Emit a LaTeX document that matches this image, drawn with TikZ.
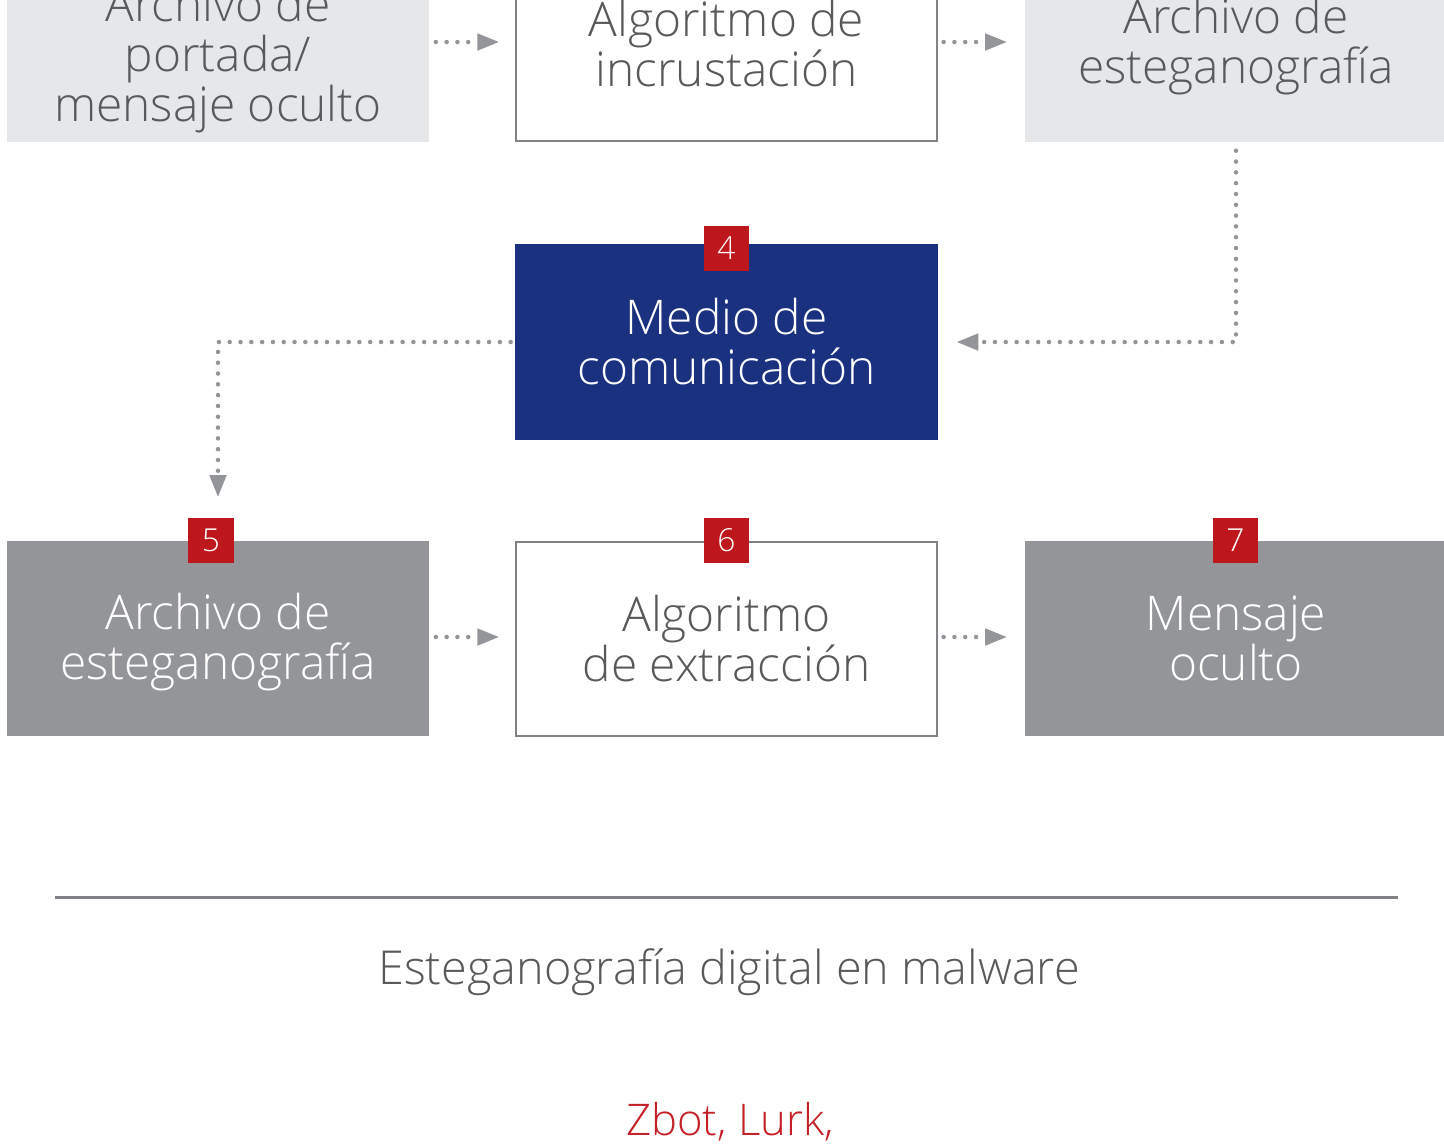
\documentclass[tikz,border=0pt]{standalone}
\usepackage{fontspec}
\setmainfont{Open Sans}[UprightFont={* Light}]
\usetikzlibrary{arrows.meta}

\definecolor{boxlight}{HTML}{E6E7E8}
\definecolor{boxdark}{HTML}{939598}
\definecolor{boxblue}{HTML}{1A3180}
\definecolor{badgered}{HTML}{BE161D}
\definecolor{txtgray}{HTML}{58595B}
\definecolor{linegray}{HTML}{808285}
\definecolor{arrowgray}{HTML}{939598}
\definecolor{malred}{HTML}{C42026}

\tikzset{
    box/.style={minimum width=4.22cm, minimum height=1.96cm, inner sep=0pt, align=center,
        font=\fontsize{13.6pt}{14.2pt}\selectfont},
    lightbox/.style={box, fill=boxlight, text=txtgray},
    darkbox/.style={box, fill=boxdark, text=white},
    openbox/.style={box, draw=linegray, line width=0.2mm, fill=white, text=txtgray,
        minimum width=4.2cm, minimum height=1.94cm},
    bluebox/.style={box, fill=boxblue, text=white},
    badge/.style={fill=badgered, text=white, minimum size=0.45cm, inner sep=0pt,
        font=\fontsize{9pt}{9pt}\selectfont},
    flow/.style={draw=arrowgray, line width=0.45mm, line cap=round,
        dash pattern=on 0pt off 1.08mm, -{Triangle[length=2.2mm,width=1.6mm]}}
}

\begin{document}
\begin{tikzpicture}[x=0.01cm, y=-0.01cm]

    \useasboundingbox (0,0) rectangle (1444,1147);
    \clip (0,0) rectangle (1444,1147);

    % Row 1: embedding
    \node[lightbox] (portada) at (218,44) {};
    \node[text=txtgray, align=center, font=\fontsize{13.6pt}{14.2pt}\selectfont]
        (portadatxt) at (218,59) {Archivo de\\portada/\\mensaje oculto};
    \node[openbox] (incrust) at (726.5,44) {Algoritmo de\\incrustación};
    \node[lightbox] (esteg) at (1236,44) {};
    \node[text=txtgray, align=center, font=\fontsize{13.6pt}{14.2pt}\selectfont]
        (estegtxt) at (1236,46) {Archivo de\\esteganografía};

    % Row 2: channel
    \node[bluebox, minimum height=1.95cm] (medio) at (726.5,342) {Medio de\\comunicación};
    \node[badge] (b4) at (726.5,248) {4};

    % Row 3: extraction
    \node[darkbox, minimum height=1.95cm] (estegdos) at (218,638.5) {};
    \node[text=white, align=center, font=\fontsize{13.6pt}{14.2pt}\selectfont]
        (estegdostxt) at (218,642) {Archivo de\\esteganografía};
    \node[openbox] (extrac) at (726.5,639) {Algoritmo\\de extracción};
    \node[darkbox, minimum height=1.95cm] (mensaje) at (1236,638.5) {Mensaje\\oculto};
    \node[badge] (b5) at (211,540.5) {5};
    \node[badge] (b6) at (726.5,540.5) {6};
    \node[badge] (b7) at (1235.5,540.5) {7};

    % Connectors
    \draw[flow, shorten <=0.6mm, shorten >=1.6mm] (portada.east |- 0,42) -- (incrust.west |- 0,42);
    \draw[flow, shorten <=0.6mm, shorten >=1.7mm] (incrust.east |- 0,42) -- (esteg.west |- 0,42);
    \draw[flow, shorten <=0.8mm, shorten >=1.8mm] (esteg.south) |- (medio.east);
    \draw[flow, shorten <=0.4mm, shorten >=4.3mm] (medio.west) -| (estegdos.north);
    \draw[flow, shorten <=0.6mm, shorten >=1.6mm] (estegdos.east |- 0,637) -- (extrac.west |- 0,637);
    \draw[flow, shorten <=0.6mm, shorten >=1.7mm] (extrac.east |- 0,637) -- (mensaje.west |- 0,637);

    % Caption
    \draw[linegray, line width=0.3mm] (55,897) -- (1398,897);
    \node[text=txtgray, font=\fontsize{13.3pt}{14pt}\selectfont] (titulo) at (729,972)
        {Esteganografía digital en malware};
    \node[text=malred, font=\fontsize{12.4pt}{13pt}\selectfont] (familias) at (730,1122)
        {Zbot, Lurk,};

\end{tikzpicture}
\end{document}
